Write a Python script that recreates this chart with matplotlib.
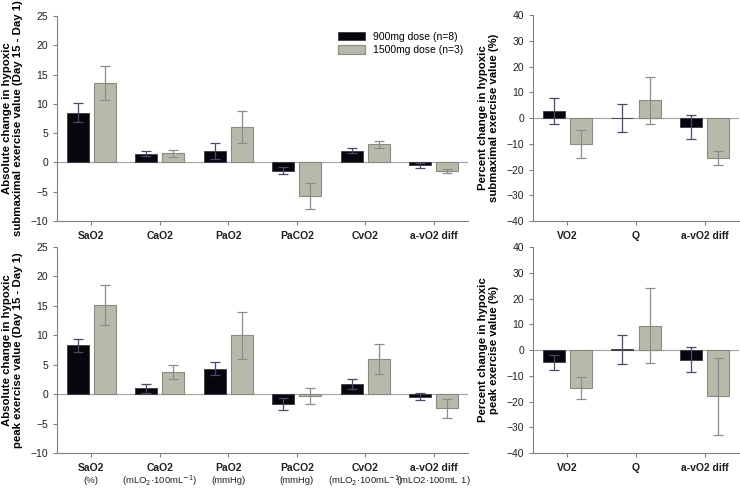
import numpy as np
import matplotlib
matplotlib.use("Agg")
import matplotlib.pyplot as plt

plt.rcParams['font.family'] = ['Liberation Sans', 'DejaVu Sans']

# absolute change panels
abs_cats = ['SaO2', 'CaO2', 'PaO2', 'PaCO2', 'CvO2', 'a-vO2 diff']
abs_units = ['(%)', '(mLO$_2$·100mL$^{-1}$)', '(mmHg)', '(mmHg)',
             '(mLO$_2$·100mL$^{-1}$)', '(mLO2·100mL$^{\u02d9}$1)']

sub_900 = [8.5, 1.5, 2.0, -1.4, 2.0, -0.5]
sub_900_err = [1.6, 0.4, 1.4, 0.6, 0.4, 0.4]
sub_1500 = [13.5, 1.6, 6.0, -5.7, 3.1, -1.5]
sub_1500_err = [2.9, 0.6, 2.7, 2.2, 0.6, 0.3]

peak_900 = [8.3, 1.0, 4.3, -1.7, 1.7, -0.45]
peak_900_err = [1.1, 0.8, 1.1, 1.0, 0.8, 0.6]
peak_1500 = [15.1, 3.7, 10.0, -0.3, 6.0, -2.4]
peak_1500_err = [3.4, 1.2, 4.0, 1.4, 2.5, 1.65]

# percent change panels
pct_cats = ['VO2', 'Q', 'a-vO2 diff']

subp_900 = [2.7, 0.0, -3.5]
subp_900_err = [5.2, 5.4, 4.6]
subp_1500 = [-10.1, 6.9, -15.4]
subp_1500_err = [5.6, 9.2, 2.7]

peakp_900 = [-4.8, 0.3, -3.7]
peakp_900_err = [2.9, 5.6, 4.8]
peakp_1500 = [-14.6, 9.5, -18.0]
peakp_1500_err = [4.3, 14.5, 15.0]

BLACK = '#06060c'
GRAY = '#b9b9ab'
SPINE = '#808080'

fig = plt.figure(figsize=(7.4, 4.9), dpi=100)
W, H = 740, 490


def add_ax(x0, y0, x1, y1):
    return fig.add_axes([x0 / W, 1 - y1 / H, (x1 - x0) / W, (y1 - y0) / H])


def draw(ax, cats, v1, e1, v2, e2, ylim, yticks, ylabel, units=None):
    x = np.arange(len(cats))
    w = 0.32
    b1 = ax.bar(x - 0.2, v1, w, color=BLACK, edgecolor='#3a3a48', linewidth=0.6, zorder=3)
    b2 = ax.bar(x + 0.2, v2, w, color=GRAY, edgecolor='#8a8a80', linewidth=0.8, zorder=3)
    ax.errorbar(x - 0.2, v1, yerr=e1, fmt='none', ecolor='#4a4a6a', elinewidth=0.9,
                capsize=3.5, capthick=0.9, zorder=4)
    ax.errorbar(x + 0.2, v2, yerr=e2, fmt='none', ecolor='#8c8c8c', elinewidth=0.9,
                capsize=3.5, capthick=0.9, zorder=4)
    ax.axhline(0, color='#a8a8a8', linewidth=0.9, zorder=2)
    ax.set_xlim(-0.5, len(cats) - 0.5)
    ax.set_ylim(*ylim)
    ax.set_yticks(yticks)
    ax.set_xticks(x)
    ax.set_xticklabels(cats, fontweight='bold', fontsize=7.5)
    if units is not None:
        for xi, u in zip(x, units):
            ax.annotate(u, xy=(xi, 0), xycoords=('data', 'axes fraction'),
                        xytext=(0, -20), textcoords='offset points',
                        ha='center', va='center', fontsize=6.8, color='#202020')
    ax.tick_params(axis='both', labelsize=7.5, colors='#202020', length=3,
                   width=0.8, color=SPINE)
    ax.tick_params(axis='x', pad=4)
    for s in ['top', 'right']:
        ax.spines[s].set_visible(False)
    ax.spines['left'].set_color(SPINE)
    ax.spines['bottom'].set_color(SPINE)
    ax.set_ylabel(ylabel, fontweight='bold', fontsize=8.2, linespacing=1.15, labelpad=5)
    return b1, b2


ax1 = add_ax(57, 16, 468, 221)
h1, h2 = draw(ax1, abs_cats, sub_900, sub_900_err, sub_1500, sub_1500_err,
              (-10, 25), range(-10, 26, 5),
              'Absolute change in hypoxic\nsubmaximal exercise value (Day 15 - Day 1)')
ax1.legend([h1, h2], ['900mg dose (n=8)', '1500mg dose (n=3)'], loc='upper left',
           bbox_to_anchor=(0.66, 0.97), frameon=False, fontsize=7.5,
           handlelength=2.6, handleheight=0.9, labelspacing=0.35)

ax2 = add_ax(57, 247, 468, 453)
draw(ax2, abs_cats, peak_900, peak_900_err, peak_1500, peak_1500_err,
     (-10, 25), range(-10, 26, 5),
     'Absolute change in hypoxic\npeak exercise value (Day 15 - Day 1)', abs_units)

ax3 = add_ax(533, 15, 739, 221)
draw(ax3, pct_cats, subp_900, subp_900_err, subp_1500, subp_1500_err,
     (-40, 40), range(-40, 41, 10),
     'Percent change in hypoxic\nsubmaximal exercise value (%)')

ax4 = add_ax(533, 247, 739, 453)
draw(ax4, pct_cats, peakp_900, peakp_900_err, peakp_1500, peakp_1500_err,
     (-40, 40), range(-40, 41, 10),
     'Percent change in hypoxic\npeak exercise value (%)')

fig.savefig('out.png', dpi=100)
